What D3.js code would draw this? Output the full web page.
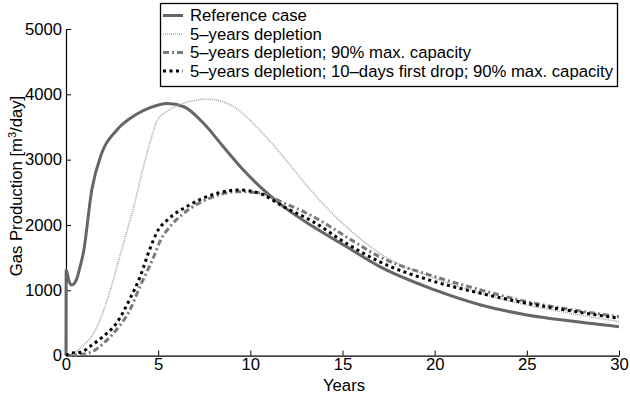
<html>
<head>
<meta charset="utf-8">
<script src="https://d3js.org/d3.v7.min.js"></script>
<style>
body { margin: 0; background: #fff; }
svg text { font-family: "Liberation Sans", Arial, sans-serif; fill: #000; }
</style>
</head>
<body>
<svg id="chart" width="630" height="396"></svg>
<script>
// data: [years, m3/day]
var refCase = [[0,0],[0.01,1310],[0.15,1150],[0.32,1080],[0.55,1150],[0.76,1360],[0.94,1570],[1.4,2540],[1.94,3100],[2.75,3450],[3.8,3690],[4.6,3800],[5.5,3860],[6.4,3810],[7.45,3560],[8.5,3210],[9.6,2850],[10.7,2540],[11.8,2280],[13.4,1975],[15.2,1670],[17,1365],[20,1005],[22.5,775],[25,622],[27.5,525],[30,443]];
var depl5 = [[0,0],[0.5,50],[0.94,160],[1.4,300],[1.84,545],[2.4,1000],[2.9,1500],[3.3,1900],[3.65,2250],[4.2,2890],[4.65,3350],[4.95,3600],[5.6,3760],[6.4,3865],[7.7,3925],[9.1,3810],[10.5,3455],[11.8,3040],[13.4,2490],[15.2,1975],[17,1570],[20,1185],[22.5,955],[25,775],[27.5,640],[30,520]];
var depl5cap = [[0,0],[0.5,10],[1.0,25],[1.5,70],[2.0,180],[2.75,400],[3.47,700],[4.0,1050],[4.5,1350],[4.8,1540],[5.1,1750],[5.64,1974],[6.4,2180],[7.8,2410],[9.4,2510],[10.5,2490],[11.8,2340],[13.4,2130],[15.2,1820],[17,1515],[20,1210],[22.5,1005],[25,826],[27.5,700],[30,596]];
var depl5drop = [[0,0],[0.3,40],[0.8,50],[1.3,140],[2.0,290],[2.75,500],[3.47,870],[4.02,1208],[4.56,1640],[5.0,1923],[5.5,2077],[6.6,2290],[8.2,2485],[9.4,2536],[10.5,2485],[11.8,2280],[13.4,2051],[15.2,1720],[17,1438],[20,1132],[22.5,954],[25,801],[27.5,680],[30,571]];

var seriesNames = ["Reference case", "5\u2013years depletion", "5\u2013years depletion; 90% max. capacity", "5\u2013years depletion; 10\u2013days first drop; 90% max. capacity"];
var xTicks = [0, 5, 10, 15, 20, 25, 30];
var yTicks = [0, 1000, 2000, 3000, 4000, 5000];

var styles = [
  {color: "#666666", width: 3, dash: null},
  {color: "#a8a8a8", width: 1.6, dash: "1,1"},
  {color: "#7a7a7a", width: 3, dash: "6,3,2,3"},
  {color: "#000000", width: 3, dash: "3,3.5"}
];
var allData = [refCase, depl5, depl5cap, depl5drop];
var fs = "16.7px";

var svg = d3.select("#chart");
var x = d3.scaleLinear().domain([0, 30]).range([66, 619]);
var y = d3.scaleLinear().domain([0, 5000]).range([355.6, 29]);

// axes, ticks pointing inward
var xAxis = svg.append("g").attr("transform", "translate(0,355.6)")
  .call(d3.axisBottom(x).tickValues(xTicks).tickFormat(d3.format("d")).tickSize(-5).tickPadding(3).tickSizeOuter(0));
var yAxis = svg.append("g").attr("transform", "translate(66,0)")
  .call(d3.axisLeft(y).tickValues(yTicks).tickFormat(d3.format("d")).tickSize(-5).tickPadding(4).tickSizeOuter(0));
[xAxis, yAxis].forEach(function(a) {
  a.select(".domain").attr("stroke", "#000").attr("stroke-width", 1.2);
  a.selectAll(".tick line").attr("stroke", "#000");
  a.selectAll(".tick text").style("font-size", fs);
  a.attr("font-size", null).attr("font-family", null);
});

var line = d3.line()
  .x(function(d) { return x(d[0]); })
  .y(function(d) { return y(d[1]); })
  .curve(d3.curveMonotoneX);

svg.append("g").selectAll("path").data(allData).enter()
  .append("path")
  .attr("d", line)
  .attr("fill", "none")
  .attr("stroke", function(d, i) { return styles[i].color; })
  .attr("stroke-width", function(d, i) { return styles[i].width; })
  .attr("stroke-dasharray", function(d, i) { return styles[i].dash; });

// axis labels
svg.append("text")
  .attr("x", 344).attr("y", 391)
  .attr("text-anchor", "middle")
  .style("font-size", fs)
  .text("Years");

var yl = svg.append("text")
  .attr("transform", "translate(16,186) rotate(-90)")
  .attr("text-anchor", "middle")
  .attr("dy", "0.35em")
  .style("font-size", fs);
yl.append("tspan").text("Gas Production [m");
yl.append("tspan").attr("baseline-shift", "super").style("font-size", "11px").text("3");
yl.append("tspan").text("/day]");

// legend
var legend = svg.append("g");
legend.append("rect")
  .attr("x", 160.5).attr("y", 3.5).attr("width", 457).attr("height", 83)
  .attr("fill", "#fff").attr("stroke", "#000").attr("stroke-width", 1.3);

var rows = legend.selectAll("g.row").data(seriesNames).enter()
  .append("g").attr("class", "row")
  .attr("transform", function(d, i) { return "translate(0," + (15.5 + i * 18.5) + ")"; });
rows.append("line")
  .attr("x1", 163).attr("x2", 183)
  .attr("stroke", function(d, i) { return styles[i].color; })
  .attr("stroke-width", function(d, i) { return styles[i].width; })
  .attr("stroke-dasharray", function(d, i) { return styles[i].dash; });
rows.append("text")
  .attr("x", 190).attr("dy", "0.35em")
  .style("font-size", fs)
  .text(function(d) { return d; });
</script>
</body>
</html>
